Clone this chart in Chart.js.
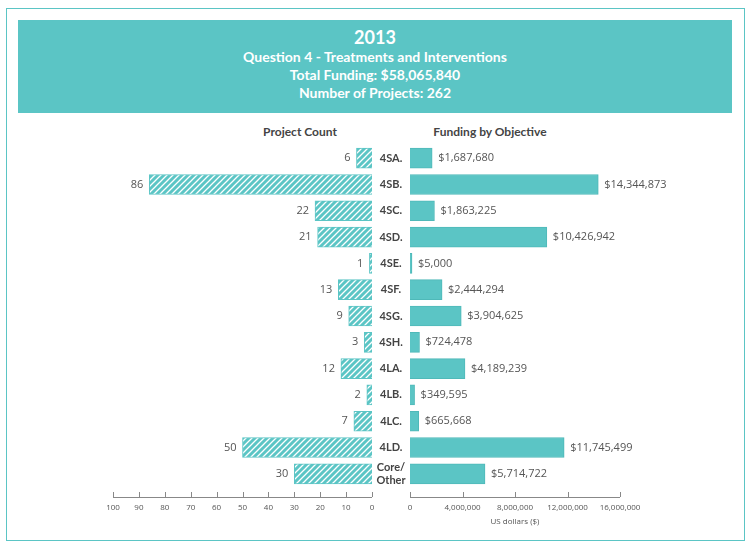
<!DOCTYPE html>
<html>
<head>
<meta charset="utf-8">
<script src="https://cdn.jsdelivr.net/npm/chart.js@4"></script>
<style>
  body { margin: 0; background: #fff; font-family: Lato, "Open Sans", sans-serif; }
  #wrap { position: relative; width: 750px; height: 548px; }
  #frame { position: absolute; left: 6px; top: 8px; width: 737px; height: 531px; border: 1px solid #5bc5c5; }
  #head { position: absolute; left: 18px; top: 20px; width: 714px; height: 93px; background: #5bc5c5; color: #fff; text-align: center; font-weight: bold; }
  #head .y { font-size: 18px; margin-top: 6px; line-height: 22px; }
  #head .l { font-size: 14px; line-height: 18px; }
  .sub { position: absolute; top: 124px; font-size: 12px; font-weight: bold; color: #444; transform: translateX(-50%); white-space: nowrap; }
  canvas { position: absolute; left: 0; top: 0; }
</style>
</head>
<body>
<div id="wrap">
  <div id="frame"></div>
  <div id="head">
    <div class="y">2013</div>
    <div class="l">Question 4 - Treatments and Interventions</div>
    <div class="l">Total Funding: $58,065,840</div>
    <div class="l">Number of Projects: 262</div>
  </div>
  <div class="sub" style="left:300px">Project Count</div>
  <div class="sub" style="left:490px">Funding by Objective</div>
  <canvas id="left" width="750" height="548"></canvas>
  <canvas id="right" width="750" height="548"></canvas>
</div>
<script>
var categories = ["4SA.", "4SB.", "4SC.", "4SD.", "4SE.", "4SF.", "4SG.", "4SH.", "4LA.", "4LB.", "4LC.", "4LD.", ["Core/", "Other"]];
var projectCounts = [6, 86, 22, 21, 1, 13, 9, 3, 12, 2, 7, 50, 30];
var funding = [1687680, 14344873, 1863225, 10426942, 5000, 2444294, 3904625, 724478, 4189239, 349595, 665668, 11745499, 5714722];
var countTicks = [100, 90, 80, 70, 60, 50, 40, 30, 20, 10, 0];
var fundingTicks = [0, 4000000, 8000000, 12000000, 16000000];

var teal = "#5bc5c5";
var textCol = "#555";

function hatch() {
  var c = document.createElement("canvas");
  c.width = 6; c.height = 6;
  var g = c.getContext("2d");
  g.fillStyle = teal;
  g.fillRect(0, 0, 6, 6);
  g.strokeStyle = "#fff";
  g.lineWidth = 1.3;
  g.beginPath();
  g.moveTo(0, 6); g.lineTo(6, 0);
  g.moveTo(-3, 3); g.lineTo(3, -3);
  g.moveTo(3, 9); g.lineTo(9, 3);
  g.stroke();
  return g.createPattern(c, "repeat");
}

function money(v) { return v.toLocaleString("en-US"); }

// per-chart settings for the drawing plugin (kept out of chart options so functions aren't treated as scriptable)
var sides = {
  left: { side: "left", ticks: countTicks, fmt: String, label: String },
  right: { side: "right", ticks: fundingTicks, title: "US dollars ($)", fmt: money, label: function (v) { return "$" + money(v); } }
};

// bottom axis line with upward ticks, plus value labels and category names
var axisPlugin = {
  id: "axisPlugin",
  afterDraw: function (chart) {
    var ctx = chart.ctx;
    var x = chart.scales.x, y = chart.scales.y;
    var opt = sides[chart.canvas.id];
    var ay = chart.chartArea.bottom + 10;
    ctx.save();
    ctx.strokeStyle = "#888";
    ctx.lineWidth = 1;
    ctx.beginPath();
    ctx.moveTo(x.left, ay + 0.5);
    ctx.lineTo(x.right, ay + 0.5);
    opt.ticks.forEach(function (t) {
      var px = Math.round(x.getPixelForValue(t)) + 0.5;
      ctx.moveTo(px, ay);
      ctx.lineTo(px, ay - 5);
    });
    ctx.stroke();
    ctx.fillStyle = "#555";
    ctx.font = "8px 'Open Sans'";
    ctx.textAlign = "center";
    ctx.textBaseline = "middle";
    opt.ticks.forEach(function (t) {
      ctx.fillText(opt.fmt(t), x.getPixelForValue(t), ay + 11);
    });
    if (opt.title) ctx.fillText(opt.title, (x.left + x.right) / 2, ay + 25);

    // value labels
    var meta = chart.getDatasetMeta(0);
    var data = chart.data.datasets[0].data;
    ctx.font = "11px 'Open Sans'";
    ctx.fillStyle = textCol;
    meta.data.forEach(function (bar, i) {
      if (opt.side === "left") {
        ctx.textAlign = "right";
        ctx.fillText(opt.label(data[i]), Math.min(bar.x, bar.base) - 6, bar.y);
      } else {
        ctx.textAlign = "left";
        ctx.fillText(opt.label(data[i]), Math.max(bar.x, bar.base) + 6, bar.y);
      }
    });

    if (opt.side === "right") {
      ctx.font = "bold 11px Lato";
      ctx.fillStyle = "#444";
      ctx.textAlign = "center";
      chart.data.labels.forEach(function (lab, i) {
        var cy = y.getPixelForValue(i);
        if (Array.isArray(lab)) {
          ctx.fillText(lab[0], 391, cy - 6);
          ctx.fillText(lab[1], 391, cy + 7);
        } else {
          ctx.fillText(lab, 391, cy);
        }
      });
    }
    ctx.restore();
  }
};

function baseOptions(xopts, pad) {
  return {
    indexAxis: "y",
    responsive: false,
    animation: false,
    layout: { padding: pad },
    plugins: { legend: { display: false }, tooltip: { enabled: false } },
    scales: {
      x: Object.assign({ display: false, grid: { display: false } }, xopts),
      y: { display: false, grid: { display: false } }
    }
  };
}

new Chart(document.getElementById("left"), {
  type: "bar",
  data: {
    labels: categories,
    datasets: [{
      data: projectCounts,
      backgroundColor: hatch(),
      borderColor: teal,
      borderWidth: 1,
      barThickness: 20,
      minBarLength: 2
    }]
  },
  options: baseOptions({ min: 0, max: 100, reverse: true },
    { left: 113, right: 378, top: 145, bottom: 61 }),
  plugins: [axisPlugin]
});

new Chart(document.getElementById("right"), {
  type: "bar",
  data: {
    labels: categories,
    datasets: [{
      data: funding,
      backgroundColor: teal,
      borderColor: "#4fb9b9",
      borderWidth: 1,
      barThickness: 20,
      minBarLength: 2
    }]
  },
  options: baseOptions({ min: 0, max: 16000000 },
    { left: 410, right: 130, top: 145, bottom: 61 }),
  plugins: [axisPlugin]
});
</script>
</body>
</html>
